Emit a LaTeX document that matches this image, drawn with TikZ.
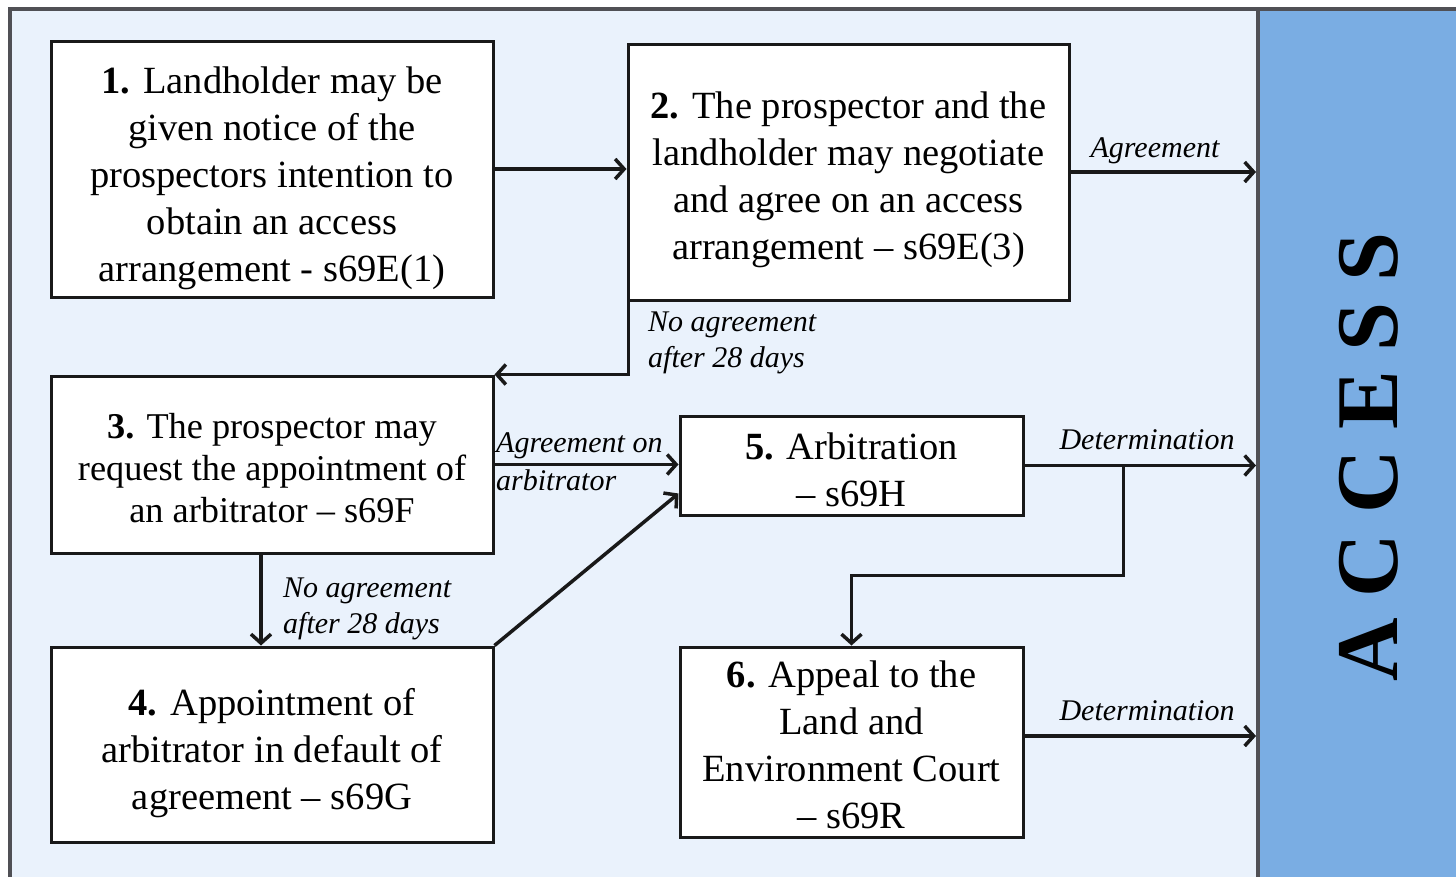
\documentclass[tikz,border=0pt]{standalone}
\usepackage{fontspec}
\setmainfont{Liberation Serif}
\newfontfamily\accessfont[LetterSpace=23]{Liberation Serif}
\usetikzlibrary{arrows.meta,calc}
\definecolor{bgblue}{RGB}{234,242,252}
\definecolor{panelblue}{RGB}{122,173,227}
\definecolor{framegray}{RGB}{80,80,85}
\begin{document}
\begin{tikzpicture}[x=1pt,y=-1pt,
  box/.style={draw=black!90,line width=3pt,fill=white,inner sep=0pt},
  txt/.style={align=center,inner sep=0pt,font=\fontsize{38.5}{47}\selectfont},
  lab/.style={font=\fontsize{30}{36}\selectfont\itshape,inner sep=0pt},
  conn/.style={line width=3.5pt,draw=black!90,-{Straight Barb[length=9pt,width=20pt]}}]
\useasboundingbox (0,0) rectangle (1456,876);
\clip (0,0) rectangle (1456,876);
% frame and panel
\fill[bgblue] (10,9) rectangle (1258,900);
\fill[panelblue] (1258,9) rectangle (1470,900);
\draw[framegray,line width=4pt] (10,900) -- (10,9) -- (1470,9);
\draw[framegray,line width=4pt] (1258,9) -- (1258,900);
\coordinate (edge) at (1256,0);
% boxes
\node[box,minimum width=442pt,minimum height=256pt] (b1) at (272,169) {};
\node[txt] (t1) at ($(b1.center)+(0,9)$)
  {\textbf{1.} Landholder may be\\given notice of the\\prospectors intention to\\obtain an access\\arrangement - s69E(1)};
\node[box,minimum width=441pt,minimum height=256pt] (b2) at (848.5,172) {};
\node[txt] (t2) at ($(b2.center)+(0,8)$)
  {\textbf{2.} The prospector and the\\landholder may negotiate\\and agree on an access\\arrangement -- s69E(3)};
\node[box,minimum width=442pt,minimum height=177pt] (b3) at (272,464.5) {};
\node[txt,font=\fontsize{36.3}{42}\selectfont] (t3) at ($(b3.center)+(0,4)$)
  {\textbf{3.} The prospector may\\request the appointment of\\an arbitrator -- s69F};
\node[box,minimum width=442pt,minimum height=195pt] (b4) at (272,744.5) {};
\node[txt] (t4) at ($(b4.center)+(0,9)$)
  {\textbf{4.} Appointment of\\arbitrator in default of\\agreement -- s69G};
\node[box,minimum width=343pt,minimum height=99pt] (b5) at (851.5,465.5) {};
\node[txt] (t5) at ($(b5.center)+(0,4)$)
  {\textbf{5.} Arbitration\\-- s69H};
\node[box,minimum width=343pt,minimum height=190pt] (b6) at (851.5,742) {};
\node[txt] (t6) at ($(b6.center)+(0,3)$)
  {\textbf{6.} Appeal to the\\Land and\\Environment Court\\-- s69R};
% ACCESS
\node[rotate=90,inner sep=0pt,font=\accessfont\fontsize{88}{88}\selectfont\bfseries] (acc) at (1369,457) {ACCESS};
% connectors
\draw[conn] (b1.east) -- (b1.east -| b2.west);
\draw[conn] (b2.east) -- (b2.east -| edge);
\draw[conn] ($(b2.south west)+(2,0)$) |- (b3.north east);
\draw[conn] (b3.east) -- (b3.east -| b5.west);
\draw[conn] ($(b3.south)+(-11,0)$) -- ($(b4.north)+(-11,0)$);
\draw[conn] (b4.north east) -- ($(b5.south west)+(0,-23)$);
\draw[conn] (b5.east) -- (b5.east -| edge);
\coordinate (br) at ($(b5.east)+(99,0)$);
\draw[conn] (br) -- ++(0,110) -| (b6.north);
\draw[conn] ($(b6.east)+(0,-6)$) -- ($(b6.east -| edge)+(0,-6)$);
% labels
\node[lab,anchor=base] (l1) at (1155,157) {Agreement};
\node[lab,anchor=base west] (l2a) at (648,331) {No agreement};
\node[lab,anchor=base west] (l2b) at (648,367) {after 28 days};
\node[lab,anchor=base west] (l3) at (496,452) {Agreement on};
\node[lab,anchor=base west] (l4) at (496,490) {arbitrator};
\node[lab,anchor=base] (l5) at (1147,449) {Determination};
\node[lab,anchor=base west] (l6a) at (283,597) {No agreement};
\node[lab,anchor=base west] (l6b) at (283,633) {after 28 days};
\node[lab,anchor=base] (l7) at (1147,720) {Determination};
\end{tikzpicture}
\end{document}
